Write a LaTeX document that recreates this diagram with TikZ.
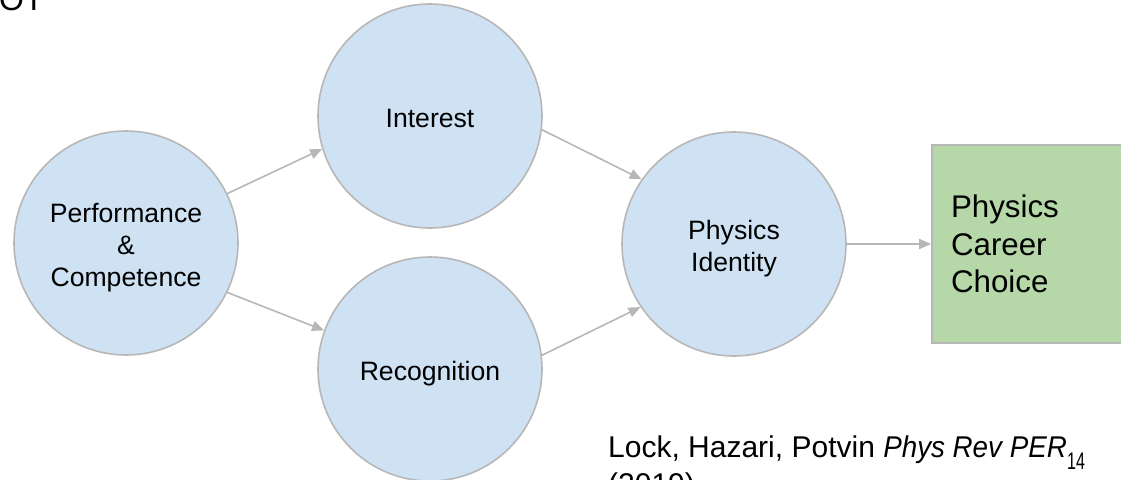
\documentclass[tikz,border=0pt]{standalone}
\usepackage{fontspec}
\usepackage{graphicx}
\setmainfont{Liberation Sans}
\usetikzlibrary{arrows.meta}
\definecolor{circfill}{HTML}{CFE2F3}
\definecolor{boxfill}{HTML}{B6D7A8}
\definecolor{edgegray}{HTML}{B7B7B7}
\newcommand{\bubbletext}[1]{\raisebox{-5pt}[\height][\depth]{\begin{tabular}{@{}c@{}}#1\end{tabular}}}
\tikzset{
  bubble/.style={circle, draw=edgegray, line width=1.6pt, fill=circfill, minimum size=224pt, inner sep=0pt, align=center, font=\fontsize{26.6}{32}\selectfont},
  goalbox/.style={rectangle, draw=edgegray, line width=1.6pt, fill=boxfill, text width=160pt, inner xsep=19pt, inner ysep=0pt, minimum height=198pt, align=left, font=\fontsize{31.3}{37.5}\selectfont},
  link/.style={draw=edgegray, line width=1.6pt, -{Triangle[length=12pt,width=10pt]}},
  plain/.style={inner sep=0pt}
}
\begin{document}
\begin{tikzpicture}[x=1pt,y=-1pt]
\useasboundingbox (0,0) rectangle (1121,479);
\node[plain, anchor=base west, font=\fontsize{32}{38}\selectfont] (title) at (-1,10) {OT};
\node[bubble] (perf) at (126,243) {\bubbletext{Performance\\\&\\Competence}};
\node[bubble] (int) at (430,116) {\bubbletext{Interest}};
\node[bubble] (rec) at (430,369) {\bubbletext{Recognition}};
\node[bubble] (id) at (734,244) {\bubbletext{Physics\\Identity}};
\node[goalbox] (career) at (1031,244) {Physics\\Career\\Choice};
\draw[link] (perf.26) -- (int.197);
\draw[link] (perf.-26) -- (rec.160);
\draw[link] (int.-7.5) -- (id.145);
\draw[link] (rec.7.5) -- (id.214);
\draw[link] (id.east) -- (career.west);
\node[plain, anchor=base west, align=left, font=\fontsize{30}{37}\selectfont] (cite) at (608,494) {Lock, Hazari, Potvin \scalebox{0.925}[1]{\itshape Phys Rev PER}\\(2019)};
\node[plain, anchor=base west, font=\fontsize{24}{30}\selectfont] (page) at (1067,469) {\scalebox{0.67}[1]{14}};
\end{tikzpicture}
\end{document}
